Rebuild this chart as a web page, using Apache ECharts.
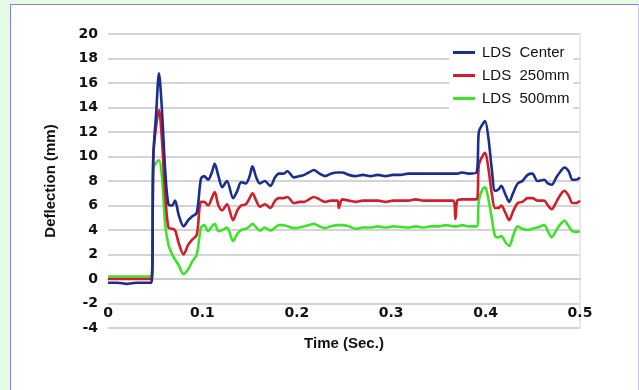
<!DOCTYPE html>
<html>
<head>
<meta charset="utf-8">
<script src="https://cdn.jsdelivr.net/npm/echarts@6/dist/echarts.min.js"></script>
<style>
  html, body { margin: 0; padding: 0; width: 639px; height: 390px; overflow: hidden; background: #e6fbe4; }
  #frame { position: absolute; left: 10px; top: 4px; width: 629px; height: 400px; box-sizing: border-box;
           border: 1.5px solid #7c86e2; border-right-color: #c9cdf0; background: #ffffff; }
  #chart { position: absolute; left: 0; top: 0; width: 639px; height: 390px; }
</style>
</head>
<body>
<div id="frame"></div>
<div id="chart"></div>
<script>
// Time (s)
const time = [0, 0.01, 0.02, 0.03, 0.04, 0.046, 0.048, 0.051, 0.054, 0.057, 0.0605, 0.064, 0.068, 0.071, 0.075,
  0.08, 0.085, 0.089, 0.094, 0.0985, 0.102, 0.106, 0.110, 0.113, 0.117, 0.121, 0.126, 0.1325, 0.137, 0.141,
  0.146, 0.150, 0.153, 0.157, 0.161, 0.166, 0.172, 0.177, 0.181, 0.186, 0.19, 0.197, 0.203, 0.208, 0.213,
  0.218, 0.224, 0.23, 0.236, 0.243, 0.2445, 0.248, 0.255, 0.262, 0.27, 0.278, 0.286, 0.294, 0.302, 0.31,
  0.318, 0.326, 0.334, 0.342, 0.35, 0.358, 0.366, 0.368, 0.37, 0.375, 0.382, 0.3905, 0.3928, 0.3965, 0.3995,
  0.403, 0.4065, 0.41, 0.4135, 0.4166, 0.421, 0.425, 0.429, 0.434, 0.439, 0.4445, 0.4495, 0.455, 0.462,
  0.466, 0.47, 0.475, 0.4795, 0.4835, 0.488, 0.492, 0.496, 0.5];

const ldsCenter = [-0.3, -0.3, -0.4, -0.3, -0.3, -0.3, 10.0, 13.5, 16.8, 14.0, 9.0, 6.1, 6.0, 6.4, 5.2,
  4.3, 4.8, 5.1, 5.4, 8.2, 8.4, 8.1, 8.7, 9.4, 8.4, 7.5, 8.0, 6.6, 7.2, 7.9,
  7.8, 8.4, 9.2, 8.3, 7.8, 8.0, 7.6, 8.3, 8.6, 8.6, 8.8, 8.3, 8.4, 8.5, 8.7,
  8.9, 8.6, 8.4, 8.6, 8.7, 8.7, 8.7, 8.5, 8.4, 8.5, 8.4, 8.5, 8.4, 8.5, 8.5,
  8.6, 8.6, 8.6, 8.6, 8.6, 8.6, 8.6, 8.6, 8.6, 8.7, 8.6, 8.7, 12.0, 12.6, 12.9,
  11.5, 9.0, 7.2, 7.3, 7.6, 6.9, 6.3, 7.0, 7.8, 8.0, 8.5, 8.6, 8.0, 8.1,
  7.8, 7.7, 8.3, 8.8, 9.1, 8.8, 8.1, 8.1, 8.3];

const lds250 = [0, 0, 0, 0, 0, 0, 10.0, 12.5, 13.8, 11.5, 7.0, 4.2, 4.1, 4.0, 2.9,
  2.0, 2.8, 3.2, 3.6, 6.3, 6.3, 6.0, 6.6, 7.1, 6.0, 5.6, 6.1, 4.8, 5.6, 6.0,
  6.1, 6.6, 7.0, 6.4, 5.9, 6.1, 5.8, 6.4, 6.6, 6.6, 6.7, 6.2, 6.3, 6.3, 6.5,
  6.7, 6.5, 6.3, 6.4, 6.4, 5.8, 6.5, 6.4, 6.3, 6.4, 6.4, 6.4, 6.3, 6.4, 6.4,
  6.4, 6.5, 6.4, 6.4, 6.4, 6.4, 6.4, 4.9, 6.4, 6.5, 6.5, 6.5, 9.3, 10.0, 10.3,
  9.0, 7.0, 5.8, 5.8, 6.0, 5.4, 4.8, 5.5, 6.2, 6.3, 6.6, 6.6, 6.4, 6.4,
  6.0, 5.7, 6.3, 6.9, 7.2, 6.8, 6.2, 6.2, 6.4];

const lds500 = [0.2, 0.2, 0.2, 0.2, 0.2, 0.2, 9.0, 9.5, 9.7, 8.5, 4.5, 2.8, 2.0, 1.6, 1.1,
  0.4, 0.8, 1.4, 2.0, 4.2, 4.4, 3.9, 4.3, 4.5, 3.9, 4.0, 4.2, 3.1, 3.7, 4.0,
  4.1, 4.3, 4.5, 4.2, 3.95, 4.2, 3.95, 4.2, 4.4, 4.4, 4.3, 4.15, 4.2, 4.3, 4.4,
  4.5, 4.3, 4.15, 4.3, 4.4, 4.4, 4.4, 4.3, 4.1, 4.2, 4.2, 4.3, 4.2, 4.3, 4.25,
  4.2, 4.3, 4.2, 4.3, 4.3, 4.4, 4.3, 4.3, 4.3, 4.4, 4.3, 4.3, 6.4, 7.3, 7.5,
  6.5, 5.0, 3.5, 3.4, 3.5, 3.0, 2.7, 3.5, 4.3, 4.1, 4.0, 4.1, 4.2, 4.4,
  3.9, 3.4, 4.0, 4.5, 4.75, 4.3, 3.9, 3.85, 3.9];

const seriesNames = ['LDS  Center', 'LDS  250mm', 'LDS  500mm'];
const seriesColors = ['#1b2e8c', '#cf1f2b', '#3fe22b'];
const seriesValues = [ldsCenter, lds250, lds500];

const pair = vals => time.map((t, i) => [t, vals[i]]);

const chart = echarts.init(document.getElementById('chart'), null, { renderer: 'canvas' });
const tickFont = { fontFamily: 'DejaVu Sans, sans-serif', fontWeight: 'bold', fontSize: 14, color: '#111' };
const titleFont = { fontFamily: 'Liberation Sans, Arial, sans-serif', fontWeight: 'bold', fontSize: 15, color: '#111' };

chart.setOption({
  backgroundColor: 'transparent',
  animation: false,
  grid: { left: 108, right: 59, top: 34, bottom: 62, containLabel: false },
  legend: {
    orient: 'vertical',
    left: 449,
    top: 41,
    backgroundColor: '#ffffff',
    padding: [4, 4, 4, 4],
    itemWidth: 22,
    itemHeight: 14,
    itemGap: 8,
    icon: 'path://M0,0 L22,0 L22,3 L0,3 Z',
    textStyle: { fontFamily: 'Liberation Sans, Arial, sans-serif', fontSize: 15, color: '#111', padding: [0, 0, 0, 2] },
    data: seriesNames
  },
  xAxis: {
    type: 'value',
    min: 0, max: 0.5, interval: 0.1,
    name: 'Time (Sec.)',
    nameLocation: 'middle',
    nameGap: 8,
    nameTextStyle: Object.assign({}, titleFont, { verticalAlign: 'top' }),
    axisLine: { show: true, lineStyle: { color: '#cfcfcf', width: 2 } },
    axisTick: { show: false },
    splitLine: { show: false },
    axisLabel: Object.assign({}, tickFont, { inside: true, margin: 8, formatter: v => String(Math.round(v * 10) / 10) })
  },
  yAxis: [{
    type: 'value',
    min: -4, max: 20, interval: 2,
    name: 'Deflection (mm)',
    nameLocation: 'middle',
    nameGap: 50,
    nameTextStyle: titleFont,
    axisLine: { show: false },
    axisTick: { show: false },
    splitLine: { show: true, lineStyle: { color: '#d4d4d4', width: 2 } },
    axisLabel: Object.assign({}, tickFont, { margin: 10 })
  }, {
    type: 'value',
    position: 'right',
    min: -4, max: 20, interval: 2,
    axisLine: { show: true, lineStyle: { color: '#e2e2e2', width: 1.5 } },
    axisTick: { show: false },
    axisLabel: { show: false },
    splitLine: { show: false }
  }],
  series: seriesValues.map((vals, i) => ({
    name: seriesNames[i],
    type: 'line',
    data: pair(vals),
    showSymbol: false,
    symbol: 'none',
    smooth: 0.3,
    lineStyle: { color: seriesColors[i], width: 2.6 },
    itemStyle: { color: seriesColors[i] },
    z: 3 - i
  }))
});
</script>
</body>
</html>
